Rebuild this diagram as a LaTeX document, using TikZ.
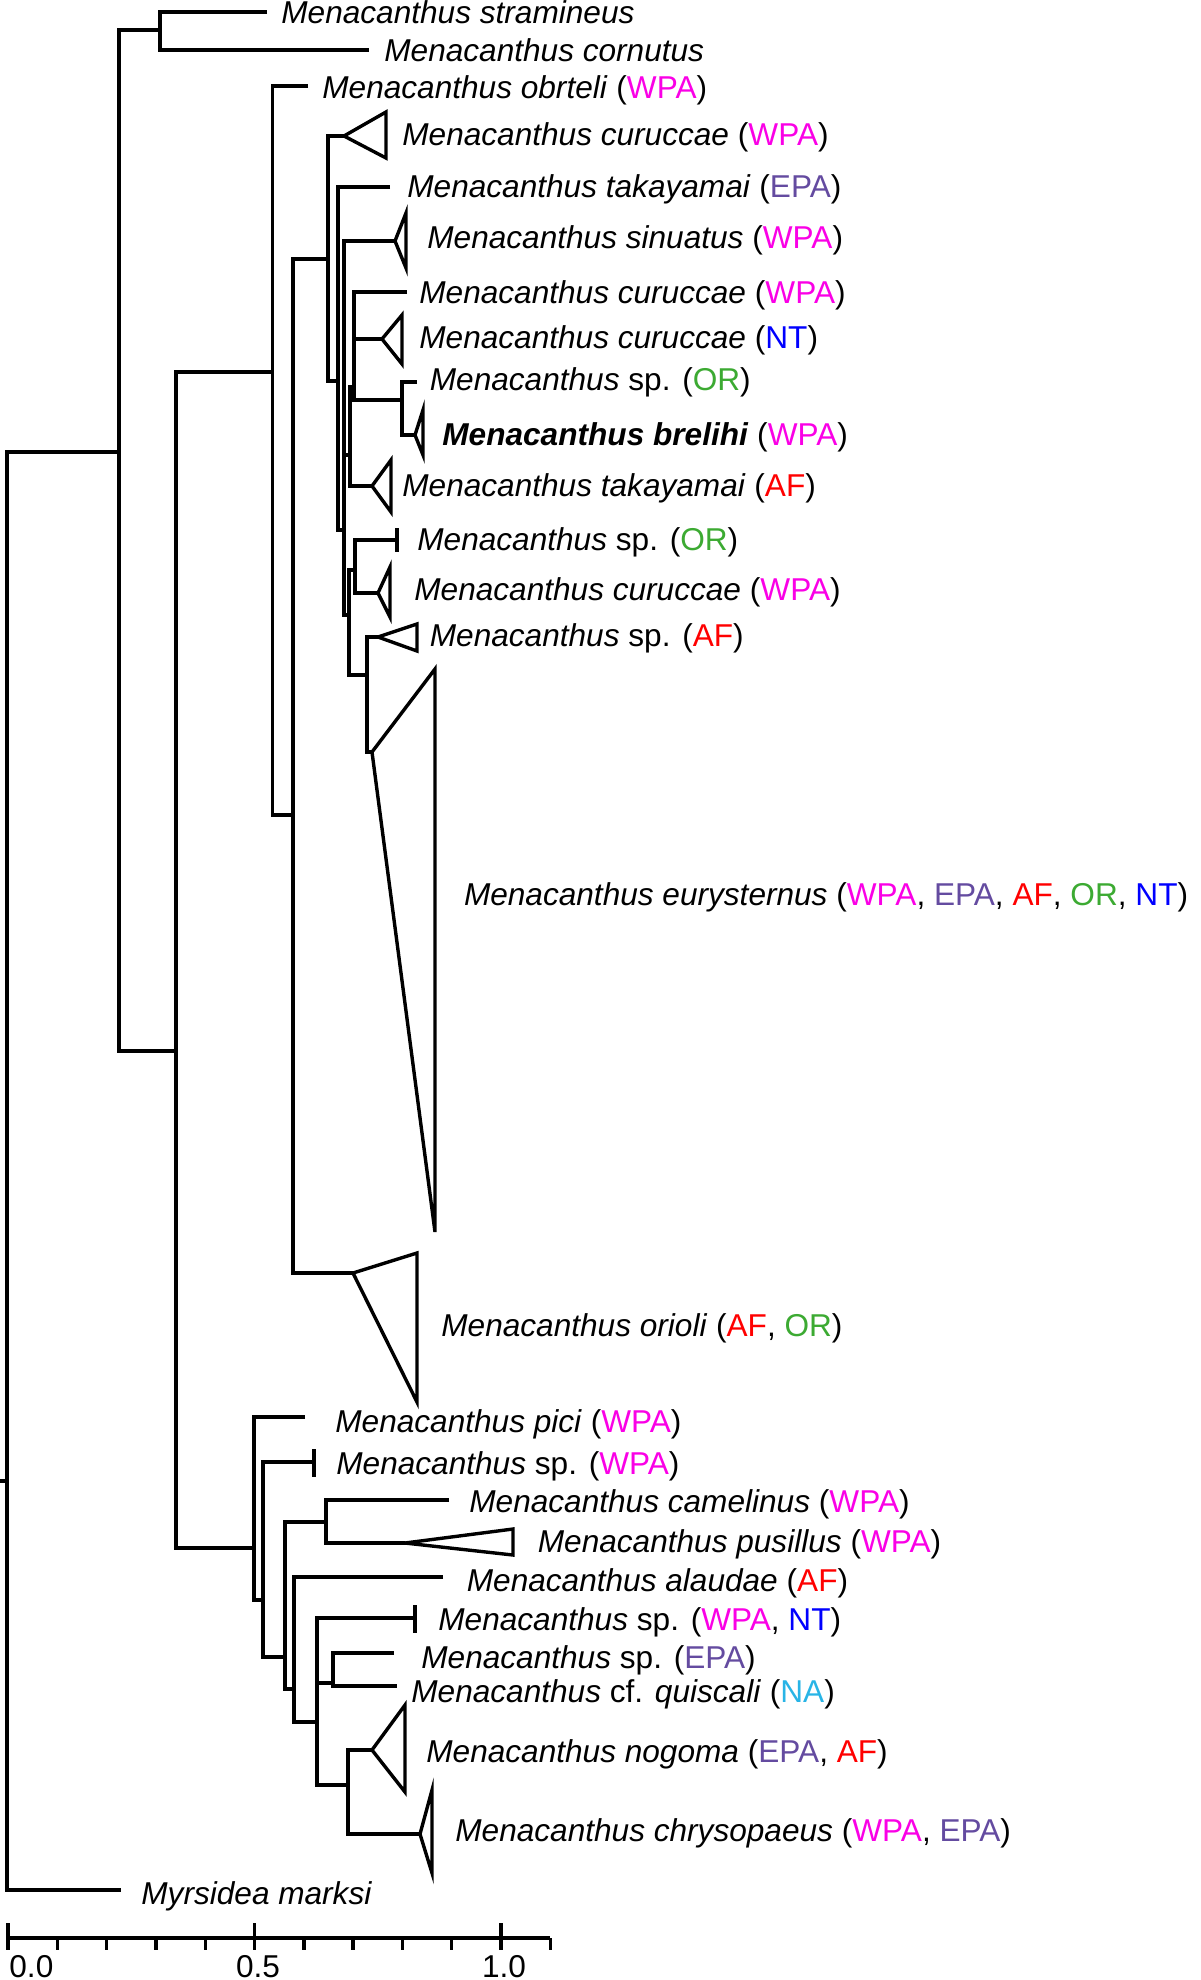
\documentclass[tikz,border=0pt]{standalone}
\usepackage{fontspec}
\setmainfont{Liberation Sans}
\usetikzlibrary{calc}
\definecolor{cWPA}{RGB}{250,0,230}
\definecolor{cEPA}{RGB}{100,75,160}
\definecolor{cAF}{RGB}{255,0,0}
\definecolor{cOR}{RGB}{60,170,50}
\definecolor{cNT}{RGB}{0,0,255}
\definecolor{cNA}{RGB}{40,180,230}
\newcommand{\rWPA}{\textcolor{cWPA}{WPA}}
\newcommand{\rEPA}{\textcolor{cEPA}{EPA}}
\newcommand{\rAF}{\textcolor{cAF}{AF}}
\newcommand{\rOR}{\textcolor{cOR}{OR}}
\newcommand{\rNT}{\textcolor{cNT}{NT}}
\newcommand{\rNA}{\textcolor{cNA}{NA}}
\newcommand{\Mn}{\textit{Menacanthus}}
\begin{document}
\begin{tikzpicture}[x=0.5pt,y=-0.5pt,
  br/.style={line width=1.7pt, line join=miter},
  lab/.style={anchor=west, inner sep=0pt, text height=11.35pt, text depth=0pt,
    font=\fontsize{15.8pt}{19pt}\selectfont},
  num/.style={anchor=base, inner sep=0pt, font=\fontsize{15.8pt}{19pt}\selectfont}]
\useasboundingbox (0,0) rectangle (1200,1980);
% ---------- node coordinates ----------
\coordinate (root) at (7,1481);
\coordinate (nA) at (119,452);
\coordinate (nSC) at (160,30);
\coordinate (tStr) at (267,12);
\coordinate (tCor) at (369,50);
\coordinate (nB) at (176,1051);
\coordinate (nC) at (272.7,372);
\coordinate (tObr) at (308,86);
\coordinate (nD) at (293,815);
\coordinate (nE) at (328,259);
\coordinate (aCur1) at (344,136);
\coordinate (nF) at (338,381);
\coordinate (tTakE) at (390,187);
\coordinate (nG) at (344,530);
\coordinate (aSin) at (395,241);
\coordinate (nM) at (350,455);
\coordinate (nN) at (354,387);
\coordinate (tCur2) at (407,292);
\coordinate (aCurNT) at (382,339);
\coordinate (nO) at (402,400);
\coordinate (tOR1) at (417,382);
\coordinate (aBre) at (415,435);
\coordinate (aTakAF) at (372,486);
\coordinate (nJ) at (349,615);
\coordinate (nL) at (355,570);
\coordinate (tOR2) at (397,540);
\coordinate (aCur3) at (378,593);
\coordinate (nK) at (367,675);
\coordinate (aAF) at (378,637);
\coordinate (aEur) at (372,752);
\coordinate (aOri) at (353,1273);
\coordinate (nP) at (254,1548);
\coordinate (tPici) at (305,1417);
\coordinate (nQ) at (263,1600);
\coordinate (tSpW) at (314,1462);
\coordinate (nR) at (285,1657);
\coordinate (nS) at (326,1522);
\coordinate (tCam) at (449,1500);
\coordinate (aPus) at (405,1543);
\coordinate (nT) at (294,1689);
\coordinate (tAla) at (443,1577);
\coordinate (nU) at (317,1722);
\coordinate (tSpWN) at (415,1618);
\coordinate (nW) at (333,1683);
\coordinate (tEPA) at (394,1653);
\coordinate (tQui) at (397,1686);
\coordinate (nX) at (348,1785);
\coordinate (aNog) at (372,1750);
\coordinate (aChr) at (420,1834);
\coordinate (tMyr) at (120.5,1890);
\coordinate (stem) at (0,1481);
% ---------- branches ----------
\draw[br] (stem) -- (root);
\draw[br] (nA) -| (root |- tMyr) -- (tMyr);
\draw[br] (nSC) -| (nA |- nB) -- (nB);
\draw[br] (tStr) -| (nSC |- tCor) -- (tCor);
\draw[br] (nC) -| (nB |- nP) -- (nP);
\draw[br] (tObr) -| (nC |- nD) -- (nD);
\draw[br] (nE) -| (nD |- aOri) -- (aOri);
\draw[br] (aCur1) -| (nE |- nF) -- (nF);
\draw[br] (tTakE) -| (nF |- nG) -- (nG);
\draw[br] (aSin) -| (nG |- nJ) -- (nJ);
\draw[br] (nG |- nM) -- (nM);
\draw[br] (nN) -| (nM |- aTakAF) -- (aTakAF);
\draw[br] (tCur2) -| (nN |- nO) -- (nO);
\draw[br] (nN |- aCurNT) -- (aCurNT);
\draw[br] (tOR1) -| (nO |- aBre) -- (aBre);
\draw[br] (nL) -| (nJ |- nK) -- (nK);
\draw[br] (tOR2) -| (nL |- aCur3) -- (aCur3);
\draw[br] (aAF) -| (nK |- aEur) -- (aEur);
\draw[br] (tPici) -| (nP |- nQ) -- (nQ);
\draw[br] (tSpW) -| (nQ |- nR) -- (nR);
\draw[br] (nS) -| (nR |- nT) -- (nT);
\draw[br] (tCam) -| (nS |- aPus) -- (aPus);
\draw[br] (tAla) -| (nT |- nU) -- (nU);
\draw[br] (tSpWN) -| (nU |- nX) -- (nX);
\draw[br] (nU |- nW) -- (nW);
\draw[br] (tEPA) -| (nW |- tQui) -- (tQui);
\draw[br] (aNog) -| (nX |- aChr) -- (aChr);
% end ticks of single-sample leaves
\draw[br] ($(tOR2)+(0,-12)$) -- ($(tOR2)+(0,12)$);
\draw[br] ($(tSpW)+(0,-13)$) -- ($(tSpW)+(0,15)$);
\draw[br] ($(tSpWN)+(0,-13)$) -- ($(tSpWN)+(0,15)$);
% ---------- collapsed clades ----------
\draw[br] (aCur1) -- (386,112) -- (386,158) -- cycle;
\draw[br] (aSin) -- (406,213) -- (406,268) -- cycle;
\draw[br] (aCurNT) -- (402,315) -- (402,364) -- cycle;
\draw[br] (aBre) -- (423,410) -- (423,455) -- cycle;
\draw[br] (aTakAF) -- (391,460) -- (391,512) -- cycle;
\draw[br] (aCur3) -- (390,567) -- (390,617) -- cycle;
\draw[br] (aAF) -- (417,624) -- (417,651) -- cycle;
\draw[br] (aEur) -- (435,669) -- (435,1232) -- cycle;
\draw[br] (aOri) -- (417,1253) -- (417,1402) -- cycle;
\draw[br] (aPus) -- (513,1529) -- (513,1555) -- cycle;
\draw[br] (aNog) -- (405,1705) -- (405,1792) -- cycle;
\draw[br] (aChr) -- (432,1790) -- (432,1873) -- cycle;
% ---------- labels ----------
\node[lab] (l1) at (281,12) {\textit{Menacanthus stramineus}};
\node[lab] (l2) at (384,50) {\textit{Menacanthus cornutus}};
\node[lab] (l3) at (322,87) {\textit{Menacanthus obrteli} (\rWPA)};
\node[lab] (l4) at (402,134) {\textit{Menacanthus curuccae} (\rWPA)};
\node[lab] (l5) at (407,186) {\textit{Menacanthus takayamai} (\rEPA)};
\node[lab] (l6) at (427,237.5) {\textit{Menacanthus sinuatus} (\rWPA)};
\node[lab] (l7) at (419,292) {\textit{Menacanthus curuccae} (\rWPA)};
\node[lab] (l8) at (419,337) {\textit{Menacanthus curuccae} (\rNT)};
\node[lab] (l9) at (429.5,379) {\Mn{} sp. (\rOR)};
\node[lab] (l10) at (442,434.5) {\textbf{\textit{Menacanthus brelihi}} (\rWPA)};
\node[lab] (l11) at (402,485) {\textit{Menacanthus takayamai} (\rAF)};
\node[lab] (l12) at (417,539) {\Mn{} sp. (\rOR)};
\node[lab] (l13) at (414,589) {\textit{Menacanthus curuccae} (\rWPA)};
\node[lab] (l14) at (429.5,635) {\Mn{} sp. (\rAF)};
\node[lab] (l15) at (463.6,894) {\textit{Menacanthus eurysternus} (\rWPA, \rEPA, \rAF, \rOR, \rNT)};
\node[lab] (l16) at (441,1325) {\textit{Menacanthus orioli} (\rAF, \rOR)};
\node[lab] (l17) at (335,1421) {\textit{Menacanthus pici} (\rWPA)};
\node[lab] (l18) at (336,1463) {\Mn{} sp. (\rWPA)};
\node[lab] (l19) at (469,1500.7) {\textit{Menacanthus camelinus} (\rWPA)};
\node[lab] (l20) at (537.5,1541) {\textit{Menacanthus pusillus} (\rWPA)};
\node[lab] (l21) at (466.5,1580) {\textit{Menacanthus alaudae} (\rAF)};
\node[lab] (l22) at (438,1619) {\Mn{} sp. (\rWPA, \rNT)};
\node[lab] (l23) at (421,1657) {\Mn{} sp. (\rEPA)};
\node[lab] (l24) at (411,1691) {\Mn{} cf. \textit{quiscali} (\rNA)};
\node[lab] (l25) at (426,1751) {\textit{Menacanthus nogoma} (\rEPA, \rAF)};
\node[lab] (l26) at (455,1830) {\textit{Menacanthus chrysopaeus} (\rWPA, \rEPA)};
\node[lab] (l27) at (141,1893.5) {\textit{Myrsidea marksi}};
% ---------- scale bar ----------
\coordinate (s0) at (8,1938);
\coordinate (s1) at (550.3,1938);
\draw[br] (s0) -- (s1);
\foreach \i in {0,...,11} {
  \draw[br] ($(s0)+(49.3*\i,0)$) -- ++(0,12);
}
\foreach \i in {0,5,10} {
  \draw[br] ($(s0)+(49.3*\i,-15)$) -- ++(0,15);
}
\node[anchor=base west, inner sep=0pt, font=\fontsize{15.8pt}{19pt}\selectfont] (sc0) at (9,1977) {0.0};
\node[num] (sc5) at (258,1977) {0.5};
\node[num] (sc10) at (504,1977) {1.0};
\end{tikzpicture}
\end{document}
